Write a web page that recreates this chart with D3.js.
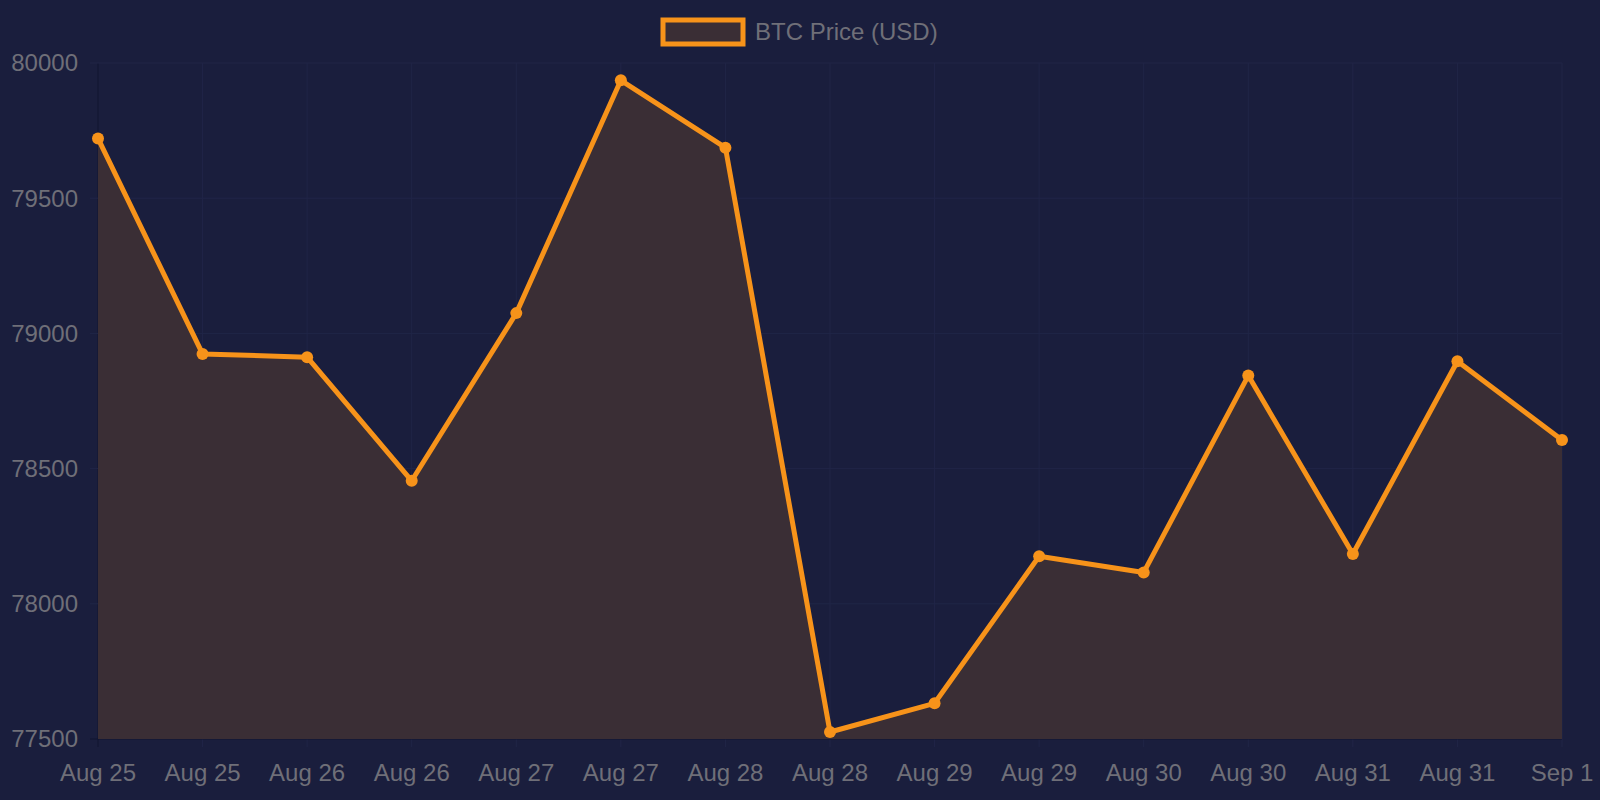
<!DOCTYPE html><html><head><meta charset="utf-8">
<script src="https://cdn.jsdelivr.net/npm/d3@7"></script>
<style>body{margin:0;background:#1a1e3d;}svg{display:block}</style></head><body>
<svg id="c" width="1600" height="800"></svg>
<script>
const labels=["Aug 25","Aug 25","Aug 26","Aug 26","Aug 27","Aug 27","Aug 28","Aug 28","Aug 29","Aug 29","Aug 30","Aug 30","Aug 31","Aug 31","Sep 1"];
const prices=[79721,78924,78912,78455,79075,79936,79687,77526,77632,78176,78116,78844,78184,78897,78606];
const yTicks=[77500,78000,78500,79000,79500,80000];
const seriesName="BTC Price (USD)";

const svg=d3.select("#c");
const L=98,R=1562,T=63,B=739;
const x=d3.scaleLinear().domain([0,labels.length-1]).range([L,R]);
const y=d3.scaleLinear().domain([77500,80000]).range([B,T]);
const font="Liberation Sans, Arial, sans-serif";
svg.append("rect").attr("width",1600).attr("height",800).attr("fill","#1a1e3d");
const g=svg.append("g");
labels.forEach((l,i)=>g.append("line").attr("x1",x(i)).attr("x2",x(i)).attr("y1",T).attr("y2",B+8).attr("stroke",i==0?"#111430":"#202547").attr("stroke-width",1));
yTicks.forEach(t=>g.append("line").attr("x1",L-8).attr("x2",R).attr("y1",y(t)).attr("y2",y(t)).attr("stroke",t==77500?"#111430":"#202547"));
const area=d3.area().x((d,i)=>x(i)).y0(B).y1(d=>y(d));
svg.append("path").datum(prices).attr("d",area).attr("fill","#3a2e35");
const line=d3.line().x((d,i)=>x(i)).y(d=>y(d));
svg.append("path").datum(prices).attr("d",line).attr("fill","none").attr("stroke","#f7931a").attr("stroke-width",5).attr("stroke-linejoin","round");
svg.selectAll("circle.p").data(prices).join("circle").attr("cx",(d,i)=>x(i)).attr("cy",d=>y(d)).attr("r",6).attr("fill","#f7931a");
yTicks.forEach(t=>svg.append("text").attr("x",78).attr("y",y(t)).attr("dy","0.35em").attr("text-anchor","end").attr("font-family",font).attr("font-size",24).attr("fill","#6f6f78").text(t));
labels.forEach((l,i)=>svg.append("text").attr("x",x(i)).attr("y",773).attr("dy","0.35em").attr("text-anchor","middle").attr("font-family",font).attr("font-size",24).attr("fill","#6f6f78").text(l));
svg.append("rect").attr("x",663).attr("y",20).attr("width",80).attr("height",24).attr("fill","#3a2e35").attr("stroke","#f7931a").attr("stroke-width",5);
svg.append("text").attr("x",755).attr("y",32).attr("dy","0.35em").attr("font-family",font).attr("font-size",24).attr("fill","#6f6f78").text(seriesName);
</script></body></html>
